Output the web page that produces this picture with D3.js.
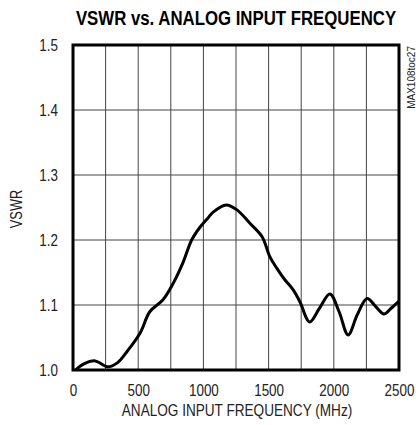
<!DOCTYPE html>
<html>
<head>
<meta charset="utf-8">
<script src="https://d3js.org/d3.v7.min.js"></script>
<style>
body { margin: 0; background: #fff; }
text { font-family: "Liberation Sans", Arial, sans-serif; }
</style>
</head>
<body>
<div id="chart"></div>
<script>
var width = 416
var height = 425
var margin = {top: 45, right: 17, bottom: 55, left: 73}

// data
var freq = [20, 80, 170, 220, 265, 340, 420, 515, 590, 690, 770, 845, 910, 975, 1035, 1075, 1175, 1260, 1355, 1450, 1510, 1565, 1620, 1690, 1740, 1815, 1890, 1970, 2040, 2110, 2180, 2255, 2320, 2385, 2440, 2500]
var vswr = [1.0, 1.009, 1.014, 1.009, 1.005, 1.011, 1.03, 1.057, 1.09, 1.108, 1.134, 1.166, 1.2, 1.22, 1.234, 1.243, 1.254, 1.246, 1.226, 1.205, 1.174, 1.156, 1.14, 1.123, 1.105, 1.074, 1.095, 1.117, 1.09, 1.054, 1.085, 1.11, 1.098, 1.086, 1.095, 1.106]
var xTicks = [0, 500, 1000, 1500, 2000, 2500]
var yTicks = [1.0, 1.1, 1.2, 1.3, 1.4, 1.5]
var xGrid = d3.range(0, 2501, 250)

var sq = 0.84   // condensed look

var svg = d3.select("#chart").append("svg")
    .attr("width", width)
    .attr("height", height)

var w = width - margin.left - margin.right
var h = height - margin.top - margin.bottom

var x = d3.scaleLinear().domain([0, 2500]).range([margin.left, margin.left + w])
var y = d3.scaleLinear().domain([1.0, 1.5]).range([margin.top + h, margin.top])

// grid
svg.append("g").selectAll("line").data(xGrid).enter().append("line")
    .attr("x1", function(d){ return x(d) }).attr("x2", function(d){ return x(d) })
    .attr("y1", margin.top).attr("y2", margin.top + h)
    .attr("stroke", "#444").attr("stroke-width", 1)

svg.append("g").selectAll("line").data(yTicks).enter().append("line")
    .attr("x1", margin.left).attr("x2", margin.left + w)
    .attr("y1", function(d){ return y(d) }).attr("y2", function(d){ return y(d) })
    .attr("stroke", "#444").attr("stroke-width", 1)

// axes (labels only)
var gx = svg.append("g")
    .attr("transform", "translate(0," + (margin.top + h) + ")")
    .call(d3.axisBottom(x).tickValues(xTicks).tickSize(0).tickPadding(15).tickFormat(d3.format("d")))
var gy = svg.append("g")
    .attr("transform", "translate(" + margin.left + ",0)")
    .call(d3.axisLeft(y).tickValues(yTicks).tickSize(0).tickPadding(15).tickFormat(d3.format(".1f")))

svg.selectAll(".domain").remove()
svg.selectAll(".tick text")
    .attr("font-family", "Liberation Sans, Arial, sans-serif")
    .attr("font-size", 16).attr("fill", "#222")
gx.selectAll(".tick text").attr("transform", "scale(" + sq + ",1)")
gy.selectAll(".tick text").attr("x", -15 / sq).attr("transform", "scale(" + sq + ",1)")

// curve
var pts = freq.map(function(f, i){ return [f, vswr[i]] })
var line = d3.line()
    .x(function(d){ return x(d[0]) })
    .y(function(d){ return y(d[1]) })
    .curve(d3.curveCatmullRom)

svg.append("path").datum(pts)
    .attr("d", line)
    .attr("fill", "none").attr("stroke", "#000").attr("stroke-width", 3)
    .attr("stroke-linejoin", "round")

// frame
svg.append("rect")
    .attr("x", margin.left).attr("y", margin.top)
    .attr("width", w).attr("height", h)
    .attr("fill", "none").attr("stroke", "#000").attr("stroke-width", 3)

// title
svg.append("text")
    .attr("transform", "translate(236,25) scale(0.8,1)")
    .attr("text-anchor", "middle")
    .attr("font-size", 21).attr("font-weight", "bold")
    .text("VSWR vs. ANALOG INPUT FREQUENCY")

svg.append("text")
    .attr("transform", "translate(237,416) scale(0.85,1)")
    .attr("text-anchor", "middle")
    .attr("font-size", 16).attr("fill", "#222")
    .text("ANALOG INPUT FREQUENCY (MHz)")

svg.append("text")
    .attr("transform", "translate(22,209) rotate(-90) scale(0.8,1)")
    .attr("text-anchor", "middle")
    .attr("font-size", 16).attr("fill", "#222")
    .text("VSWR")

svg.append("text")
    .attr("transform", "translate(415,46) rotate(-90)")
    .attr("text-anchor", "end")
    .attr("font-size", 10).attr("fill", "#222")
    .text("MAX108toc27")
</script>
</body>
</html>
